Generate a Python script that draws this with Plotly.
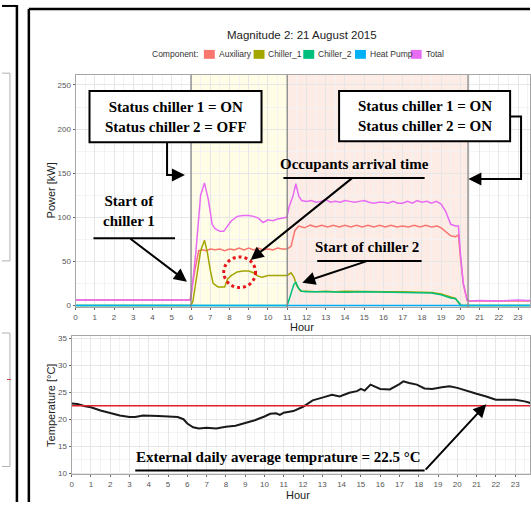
import plotly.graph_objects as go

W, H = 531, 506

# ---------------- data ----------------
SERIES_NAMES = ["Auxiliary", "Chiller_1", "Chiller_2", "Heat Pump", "Total"]
SERIES_COLORS = ["#F8766D", "#A3A500", "#00BF7D", "#00B0F6", "#E76BF3"]

AUX_HOURS = [0, 1, 2, 3, 4, 5, 5.95, 6.2, 6.4, 6.6, 6.8, 7.0, 7.25, 7.5, 7.75, 8.0, 8.25, 8.5,
             8.75, 9.0, 9.25, 9.5, 9.75, 10.0, 10.25, 10.5, 10.75, 11.0, 11.2, 11.4, 11.6, 11.9,
             12.2, 12.5, 12.8, 13.1, 13.4, 13.7, 14.0, 14.3, 14.6, 14.9, 15.2, 15.5, 15.8, 16.1,
             16.4, 16.7, 17.0, 17.3, 17.6, 17.9, 18.2, 18.5, 18.8, 19.0, 19.25, 19.5, 19.75, 19.9,
             20.0, 20.15, 20.35, 20.5, 21, 22, 23, 23.75]
AUX_KW = [6, 6, 6, 6, 6, 6, 6, 40, 62, 63, 62, 64, 63, 64, 62, 64, 63, 65,
          63, 65, 63, 65, 63, 64, 63, 65, 64, 64, 67, 85, 90, 88,
          91, 89, 91, 89, 91, 89, 91, 89, 91, 89, 91, 89, 91, 89,
          91, 89, 90, 89, 91, 89, 91, 89, 90, 88, 84, 79, 78, 80,
          55, 25, 6, 5, 5, 5, 5, 5]

CH1_HOURS = [0, 6.0, 6.1, 6.3, 6.5, 6.7, 6.85, 7.0, 7.15, 7.4, 7.75, 7.9, 8.1, 8.4, 8.7, 9.0,
             9.25, 9.5, 9.7, 10.0, 10.5, 11.0, 11.2, 11.35, 11.5, 11.7, 12, 12.5, 13, 13.5, 14,
             15, 16, 17, 18, 18.5, 19.0, 19.25, 19.5, 19.75, 19.9, 20.0, 23.75]
CH1_KW = [0, 0, 5, 35, 62, 74, 60, 40, 25, 21, 21, 30, 34, 38, 39, 39,
          37, 33, 32, 34, 34, 34, 37, 32, 22, 16, 16, 15.5, 16, 15.5, 16,
          15.5, 15.5, 15.5, 15, 14.5, 13, 11, 9.5, 8, 3, 0, 0]

CH2_HOURS = [0, 11.0, 11.15, 11.35, 11.45, 11.6, 11.75, 12, 13, 14, 15, 16, 17, 18, 18.5,
             19.0, 19.25, 19.5, 19.75, 19.9, 20.05, 23.75]
CH2_KW = [0, 0, 10, 24, 26, 19, 16, 15.5, 15.5, 15, 15.5, 15, 15, 14.5, 14,
          12, 10, 8.5, 7.5, 4, 0, 0]

HP_HOURS = [0, 23.75]
HP_KW = [0, 0]

TOT_HOURS = [0, 0.5, 1, 2, 2.5, 3, 4, 5, 5.5, 5.95, 6.0, 6.25, 6.5, 6.7, 6.9, 7.1, 7.25, 7.5,
             7.7, 7.9, 8.1, 8.4, 8.7, 9.0, 9.25, 9.5, 9.75, 10.0, 10.25, 10.5, 10.75, 10.98,
             11.1, 11.3, 11.45, 11.6, 11.75, 12.0, 12.25, 12.5, 12.75, 13.0, 13.25, 13.5, 13.75,
             14.0, 14.25, 14.5, 14.75, 15.0, 15.25, 15.5, 15.75, 16.0, 16.25, 16.5, 16.75, 17.0,
             17.25, 17.5, 17.75, 18.0, 18.25, 18.5, 18.75, 19.0, 19.25, 19.5, 19.75, 19.9, 20.0,
             20.15, 20.35, 20.5, 21, 21.5, 22, 22.5, 23, 23.5, 23.75]
TOT_KW = [6, 6.5, 6, 6, 6.5, 6, 6.5, 6, 6, 6, 8, 60, 125, 139, 120, 92, 87, 84,
          84, 90, 96, 101, 102, 102, 101, 99, 94, 97, 96, 98, 99, 100,
          112, 124, 138, 124, 119, 118, 119, 117, 118, 120, 117, 118, 117,
          119, 118, 117, 118, 119, 117, 116, 117, 117, 116, 118, 116, 116,
          118, 116, 119, 117, 118, 116, 118, 115, 106, 92, 90, 90, 60,
          25, 6, 5, 5.5, 5, 5, 5.5, 6, 5.5, 5.5]

SERIES_HOURS = [AUX_HOURS, CH1_HOURS, CH2_HOURS, HP_HOURS, TOT_HOURS]
SERIES_KW = [AUX_KW, CH1_KW, CH2_KW, HP_KW, TOT_KW]

TEMP_HOURS = [0, 0.3, 0.7, 1.0, 1.5, 2.0, 2.5, 3.0, 3.3, 3.7, 4.0, 4.5, 5.0, 5.5, 5.8, 6.0, 6.3,
              6.6, 7.0, 7.5, 8.0, 8.5, 9.0, 9.5, 10.0, 10.3, 10.6, 10.8, 11.0, 11.5, 12.0, 12.5,
              13.0, 13.5, 13.9, 14.4, 14.8, 15.0, 15.2, 15.5, 16.0, 16.5, 17.0, 17.2, 17.5, 17.9,
              18.3, 18.7, 19.2, 19.6, 20.0, 20.5, 21.0, 21.5, 22.0, 22.5, 23.0, 23.5, 23.8]
TEMP_C = [22.9, 22.8, 22.4, 22.2, 21.6, 21.1, 20.7, 20.4, 20.4, 20.7, 20.7, 20.6, 20.5, 20.4, 20.0,
          19.2, 18.5, 18.3, 18.4, 18.3, 18.6, 18.8, 19.3, 19.8, 20.5, 21.0, 21.1, 20.8, 21.2,
          21.5, 22.3, 23.5, 24.0, 24.5, 24.2, 24.9, 25.2, 25.6, 25.3, 26.4, 25.6, 25.5, 26.5,
          27.0, 26.7, 26.4, 25.7, 25.6, 25.9, 26.1, 25.8, 25.2, 24.7, 24.2, 23.6, 23.6, 23.6,
          23.3, 23.0]
AVG_TEMP = 22.5

PERIOD_BOUNDS = [6, 11, 20.4]   # chiller-1-only period, both-chillers period
HOUR_TICKS = list(range(0, 24))

TITLE = "Magnitude 2: 21 August 2015"

# ---------------- helpers (pixel -> paper) ----------------
def X(p):
    return p / W

def Y(p):
    return 1 - p / H

fig = go.Figure()

for name, color, hrs, vals in zip(SERIES_NAMES, SERIES_COLORS, SERIES_HOURS, SERIES_KW):
    fig.add_trace(go.Scatter(x=hrs, y=vals, mode="lines", name=name,
                             line=dict(color=color, width=1.5),
                             xaxis="x", yaxis="y", showlegend=False))

fig.add_trace(go.Scatter(x=TEMP_HOURS, y=TEMP_C, mode="lines", name="Temperature",
                         line=dict(color="#1A1A1A", width=2),
                         xaxis="x2", yaxis="y2", showlegend=False))
fig.add_trace(go.Scatter(x=[TEMP_HOURS[0], TEMP_HOURS[-1]], y=[AVG_TEMP, AVG_TEMP], mode="lines",
                         name="Average", line=dict(color="#E0202A", width=1.6),
                         xaxis="x2", yaxis="y2", showlegend=False))

tickfont = dict(family="Liberation Sans", size=8, color="#555555")
common = dict(showgrid=True, gridcolor="#E6E6E6", gridwidth=1, zeroline=False,
              showline=True, linecolor="#A6A6A6", linewidth=1, mirror=True,
              ticks="outside", ticklen=2, tickcolor="#666666", tickfont=tickfont)

fig.update_layout(
    width=W, height=H,
    margin=dict(l=0, r=0, t=0, b=0),
    paper_bgcolor="white", plot_bgcolor="white",
    showlegend=False,
    xaxis=dict(domain=[X(74), 1], range=[0, 23.62], anchor="y", tickvals=HOUR_TICKS,
               minor=dict(dtick=0.5, tick0=0, showgrid=True, gridcolor="#F3F3F3"), **common),
    yaxis=dict(domain=[Y(309), Y(74)], range=[-2.2, 261.2], anchor="x", dtick=50, tick0=0,
               minor=dict(dtick=25, tick0=0, showgrid=True, gridcolor="#F3F3F3"), **common),
    xaxis2=dict(domain=[X(70), 1], range=[0, 23.77], anchor="y2", tickvals=HOUR_TICKS,
                minor=dict(dtick=0.5, tick0=0, showgrid=True, gridcolor="#F3F3F3"), **common),
    yaxis2=dict(domain=[Y(478), Y(338)], range=[9.8, 35.4], anchor="x2", dtick=5, tick0=10,
                minor=dict(dtick=2.5, tick0=10, showgrid=True, gridcolor="#F3F3F3"), **common),
)

shapes = []
annotations = []

# shaded operating periods
shapes.append(dict(type="rect", xref="x", yref="y domain", x0=PERIOD_BOUNDS[0], x1=PERIOD_BOUNDS[1],
                   y0=0, y1=1, fillcolor="#FFFDE6", line=dict(width=0), layer="below"))
shapes.append(dict(type="rect", xref="x", yref="y domain", x0=PERIOD_BOUNDS[1], x1=PERIOD_BOUNDS[2],
                   y0=0, y1=1, fillcolor="#FDECE6", line=dict(width=0), layer="below"))
for b in PERIOD_BOUNDS:
    shapes.append(dict(type="line", xref="x", yref="y domain", x0=b, x1=b, y0=0, y1=1,
                       line=dict(color="#858585", width=1.3), layer="above"))

# outer frames (composite figure)
shapes.append(dict(type="line", xref="paper", yref="paper", x0=X(27), x1=X(27), y0=Y(7), y1=Y(506),
                   line=dict(color="black", width=2.5)))
shapes.append(dict(type="line", xref="paper", yref="paper", x0=X(27), x1=X(531), y0=Y(7), y1=Y(7),
                   line=dict(color="black", width=2.5)))
shapes.append(dict(type="line", xref="paper", yref="paper", x0=X(15), x1=X(15), y0=Y(3), y1=Y(506),
                   line=dict(color="black", width=2.5)))
shapes.append(dict(type="line", xref="paper", yref="paper", x0=X(0), x1=X(15), y0=Y(4), y1=Y(4),
                   line=dict(color="black", width=2)))
# remnants of neighbouring panel
for (ya, yb) in [(72, 262), (335, 470)]:
    shapes.append(dict(type="path", xref="paper", yref="paper",
                       path=f"M 0,{Y(ya)} L {X(8)},{Y(ya)} L {X(8)},{Y(yb)} L 0,{Y(yb)}",
                       line=dict(color="#B0B0B0", width=1)))
shapes.append(dict(type="line", xref="paper", yref="paper", x0=X(5), x1=X(9), y0=Y(382), y1=Y(382),
                   line=dict(color="#D04040", width=1)))

# title
annotations.append(dict(x=X(302), y=Y(33), xref="paper", yref="paper", text=TITLE, showarrow=False,
                        font=dict(family="Liberation Sans", size=11.5, color="#222222"),
                        xanchor="center", yanchor="middle"))
# manual legend
legfont = dict(family="Liberation Sans", size=8.5, color="#333333")
annotations.append(dict(x=X(199), y=Y(53), xref="paper", yref="paper", text="Component:",
                        showarrow=False, xanchor="right", yanchor="middle", font=legfont))
legend_x = [203, 253, 303, 355, 411]
for lx, name, color in zip(legend_x, SERIES_NAMES, SERIES_COLORS):
    shapes.append(dict(type="rect", xref="paper", yref="paper", x0=X(lx), x1=X(lx + 11),
                       y0=Y(57.5), y1=Y(48.5), fillcolor=color, line=dict(width=0)))
    annotations.append(dict(x=X(lx + 13), y=Y(53), xref="paper", yref="paper", text=name,
                            showarrow=False, xanchor="left", yanchor="middle", font=legfont))

# axis titles
axt = dict(family="Liberation Sans", size=11, color="#222222")
annotations.append(dict(x=X(49), y=Y(191), xref="paper", yref="paper", text="Power [kW]",
                        showarrow=False, textangle=-90, font=axt, xanchor="center", yanchor="middle"))
annotations.append(dict(x=X(49), y=Y(408), xref="paper", yref="paper", text="Temperature [°C]",
                        showarrow=False, textangle=-90, font=axt, xanchor="center", yanchor="middle"))
annotations.append(dict(x=X(302), y=Y(329), xref="paper", yref="paper", text="Hour",
                        showarrow=False, font=axt, xanchor="center", yanchor="middle"))
annotations.append(dict(x=X(298), y=Y(499), xref="paper", yref="paper", text="Hour",
                        showarrow=False, font=axt, xanchor="center", yanchor="middle"))

# callout boxes
serif = dict(family="Liberation Serif", size=15, color="black")
for (x0, x1, y0, y1, txt) in [(88, 261, 90, 142, "Status chiller 1 = ON<br>Status chiller 2 = OFF"),
                              (339, 511, 90, 141, "Status chiller 1 = ON<br>Status chiller 2 = ON")]:
    shapes.append(dict(type="rect", xref="paper", yref="paper", x0=X(x0), x1=X(x1), y0=Y(y0), y1=Y(y1),
                       fillcolor="white", line=dict(color="black", width=2), layer="above"))
    annotations.append(dict(x=X((x0 + x1) / 2), y=Y((y0 + y1) / 2), xref="paper", yref="paper",
                            text=f"<b>{txt}</b>", showarrow=False, font=serif,
                            xanchor="center", yanchor="middle"))

# texts
for (cx, cy, txt) in [(355, 164, "Occupants arrival time"),
                      (128, 212, "Start of<br>chiller 1"),
                      (367, 248, "Start of chiller 2"),
                      (278, 460, "External daily average temprature = 22.5 °C")]:
    annotations.append(dict(x=X(cx), y=Y(cy), xref="paper", yref="paper", text=f"<b>{txt}</b>",
                            showarrow=False, font=serif, xanchor="center", yanchor="middle"))

# underlines
for (xa, xb, yy) in [(92, 174, 239), (283, 425, 178), (317, 422, 262), (134, 425, 474)]:
    shapes.append(dict(type="line", xref="paper", yref="paper", x0=X(xa), x1=X(xb), y0=Y(yy), y1=Y(yy),
                       line=dict(color="black", width=2), layer="above"))

# elbow connectors
shapes.append(dict(type="path", xref="paper", yref="paper",
                   path=f"M {X(166)},{Y(142)} L {X(166)},{Y(175)} L {X(176)},{Y(175)}",
                   line=dict(color="black", width=2), layer="above"))
shapes.append(dict(type="path", xref="paper", yref="paper",
                   path=f"M {X(511)},{Y(116)} L {X(522)},{Y(116)} L {X(522)},{Y(179)} L {X(478)},{Y(179)}",
                   line=dict(color="black", width=2), layer="above"))

# arrows: (tail_x, tail_y, head_x, head_y) in pixels
for (tx, ty, hx, hy) in [(128, 239, 186, 283), (353, 178, 250, 261), (368, 262, 302, 284),
                         (425, 474, 487, 407), (166, 175, 184, 175), (522, 179, 469, 179)]:
    annotations.append(dict(x=X(hx), y=Y(hy), xref="paper", yref="paper", ax=tx - hx, ay=ty - hy,
                            axref="pixel", ayref="pixel", text="", showarrow=True, arrowhead=2,
                            arrowsize=1.3, arrowwidth=2, arrowcolor="black", standoff=0))

# dotted circle
shapes.append(dict(type="circle", xref="paper", yref="paper", x0=X(223), x1=X(255), y0=Y(258), y1=Y(289),
                   line=dict(color="#E8161C", width=3, dash="dot"), layer="above"))

fig.update_layout(shapes=shapes, annotations=annotations)
fig.write_html("out.html")
